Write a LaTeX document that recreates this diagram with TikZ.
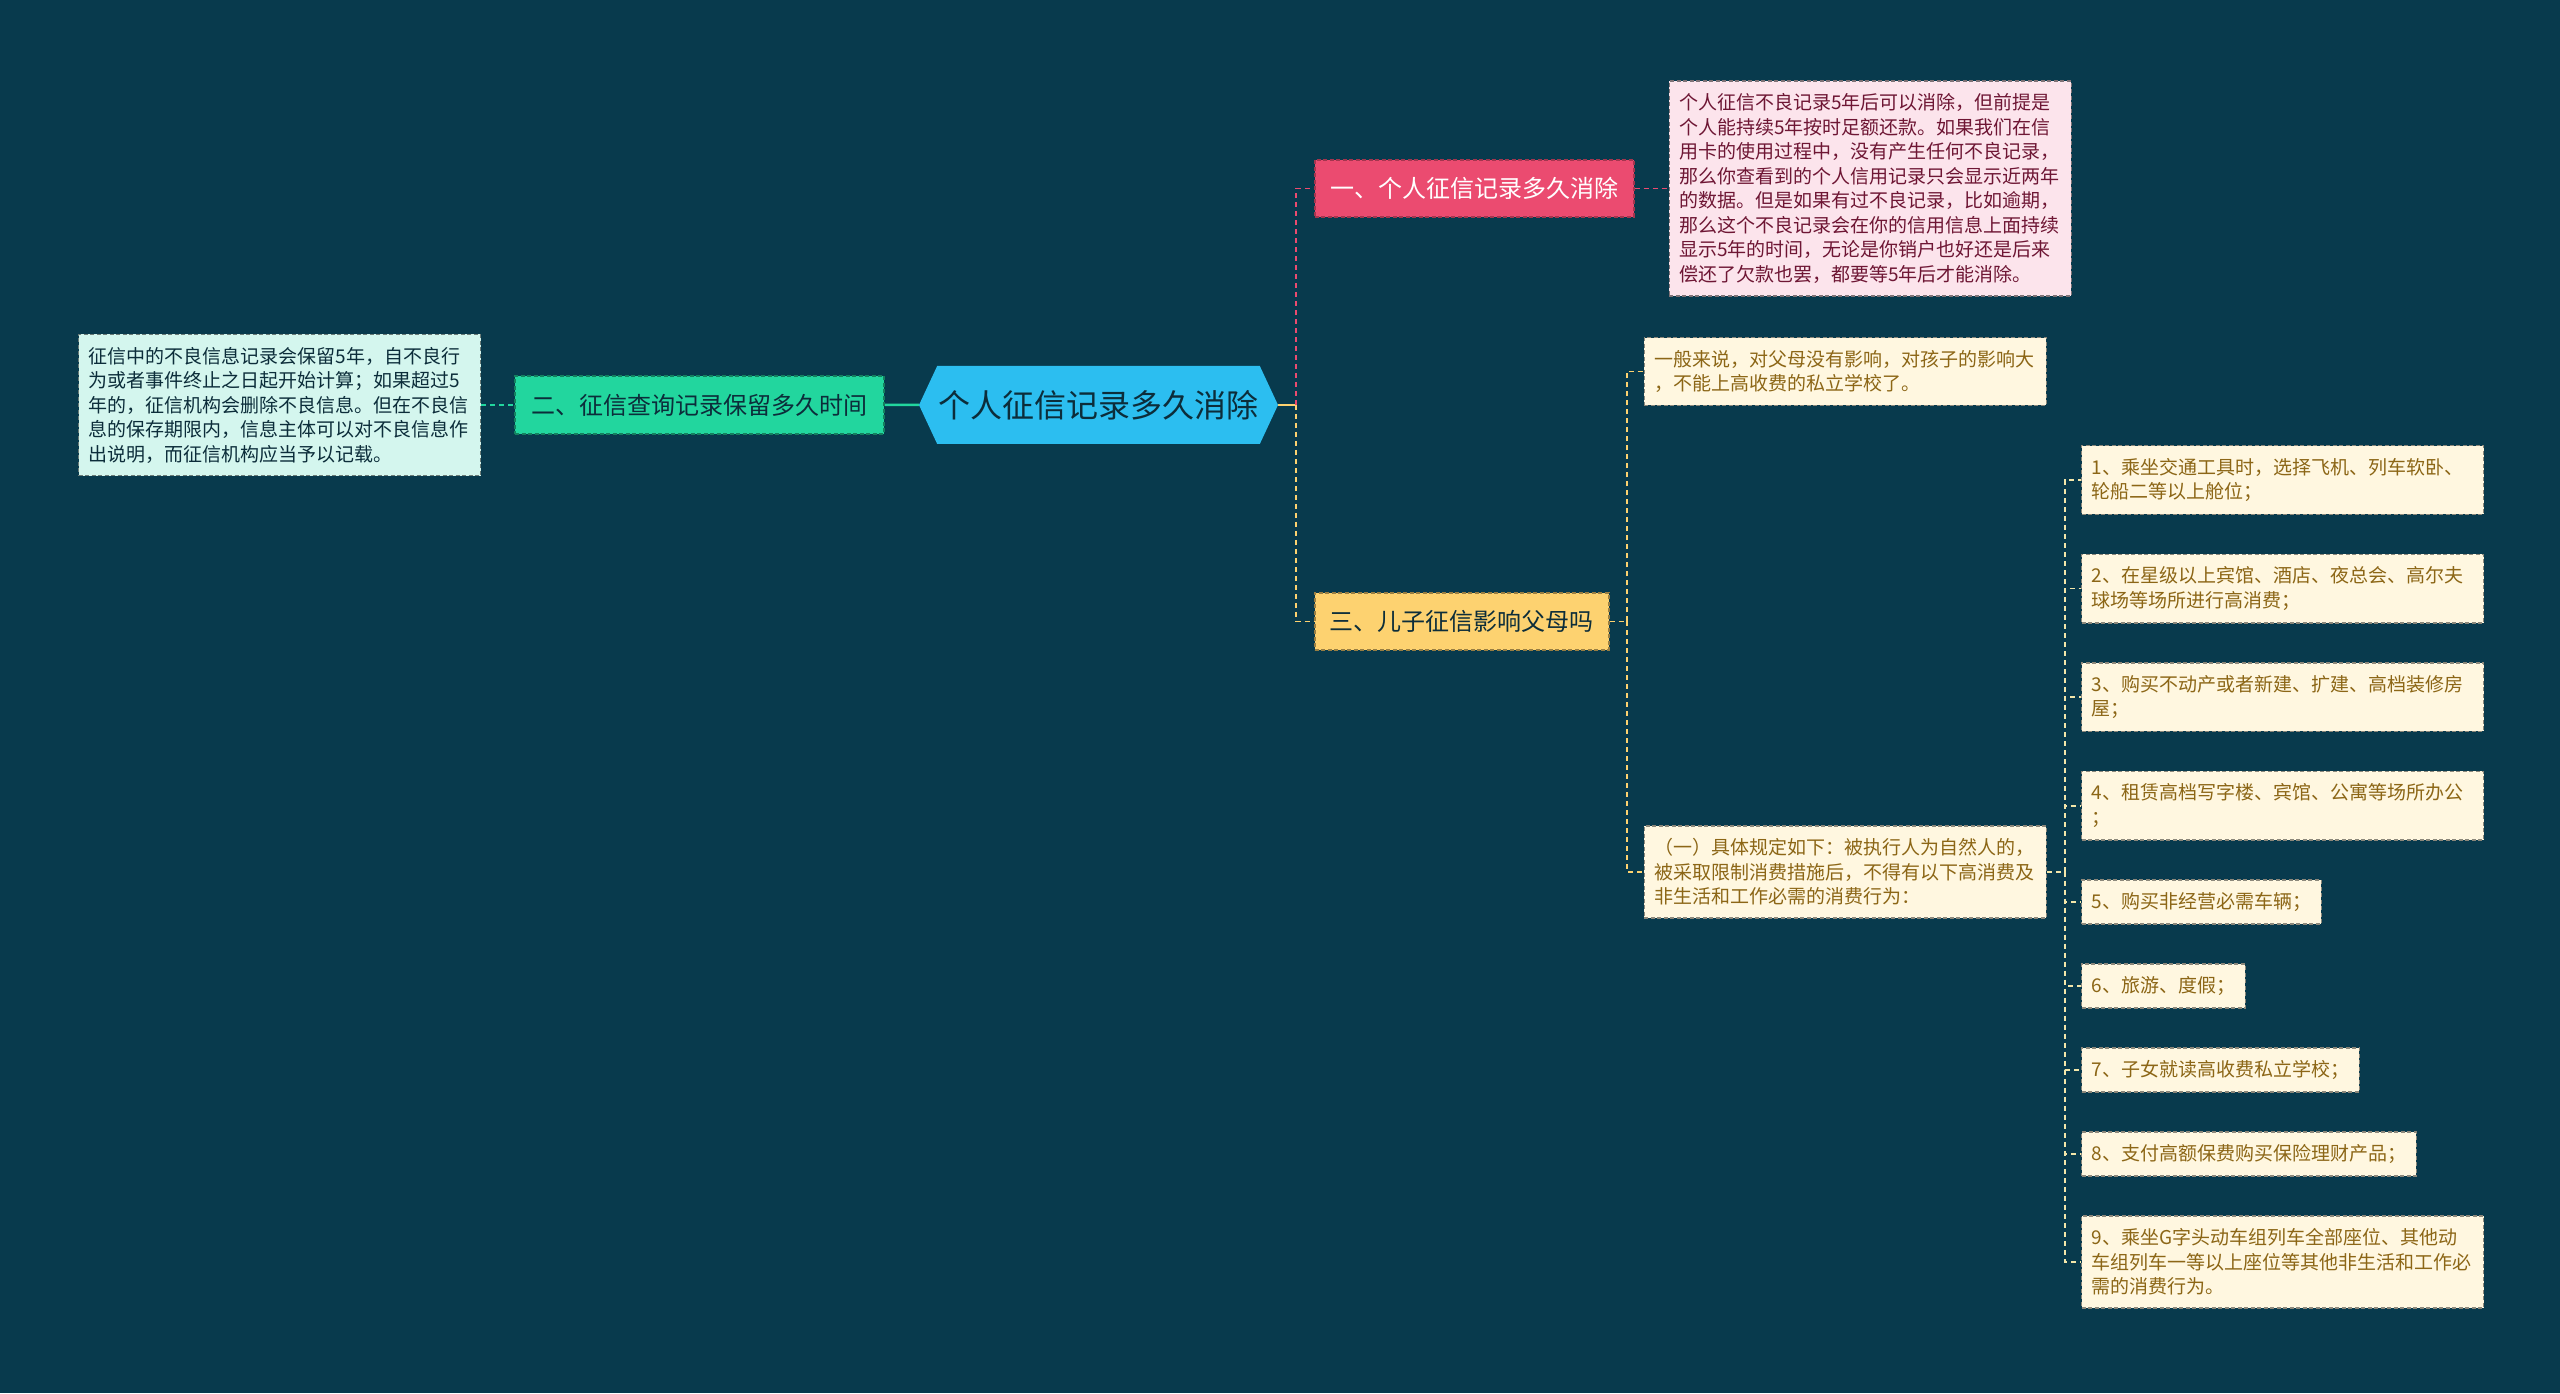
\documentclass[tikz,border=0pt]{standalone}
\usepackage{fontspec}
\setmainfont{Noto Sans CJK SC}
\usetikzlibrary{positioning, calc, shapes.symbols, backgrounds}
\definecolor{DeepTeal}{RGB}{8, 58, 77}
\definecolor{SkyBlue}{RGB}{44, 190, 240}
\definecolor{RoseRed}{RGB}{235, 75, 112}
\definecolor{RoseLight}{RGB}{252, 228, 236}
\definecolor{RoseText}{RGB}{110, 22, 52}
\definecolor{MintGreen}{RGB}{34, 214, 158}
\definecolor{MintLight}{RGB}{212, 246, 238}
\definecolor{Sunflower}{RGB}{253, 210, 112}
\definecolor{CreamBg}{RGB}{255, 247, 224}
\definecolor{OchreText}{RGB}{140, 102, 22}
\definecolor{InkDark}{RGB}{12, 45, 58}
\definecolor{PaleLine}{RGB}{243, 230, 170}

\begin{document}
\begin{tikzpicture}[
    x=1pt, y=1pt,
    font=\fontsize{19}{24.5}\selectfont,
    boxstyle/.style={rectangle, dash pattern=on 4pt off 2.5pt, line width=1.4pt, align=left, inner xsep=10pt, inner ysep=12.5pt},
    topicstyle/.style={boxstyle, align=center, inner xsep=15pt, minimum height=57pt, font=\fontsize{24}{28}\selectfont},
    notestyle/.style={boxstyle, text width=382pt},
    itemstyle/.style={boxstyle, fill=CreamBg, draw=CreamBg!55!black, text=OchreText},
    widestyle/.style={text width=382pt},
    linestyle/.style={line width=1.8pt, dash pattern=on 5pt off 4pt}
]

    % Root
    \node (main_topic) [signal, signal to=east and west, signal pointer angle=130, fill=SkyBlue, minimum width=359pt, minimum height=78pt, inner xsep=1pt, font=\fontsize{32}{36}\selectfont, text=InkDark] at (1098.5, 988) {个人征信记录多久消除};

    % Left branch
    \node (sec_two) [topicstyle, fill=MintGreen, draw=MintGreen!60!black, text=InkDark, minimum width=369pt, minimum height=58pt, left=34pt of main_topic] {二、征信查询记录保留多久时间};
    \node (note_two) [notestyle, fill=MintLight, draw=MintLight!50!black, text=InkDark, left=33pt of sec_two] {征信中的不良信息记录会保留5年，自不良行\\为或者事件终止之日起开始计算；如果超过5\\年的，征信机构会删除不良信息。但在不良信\\息的保存期限内，信息主体可以对不良信息作\\出说明，而征信机构应当予以记载。};

    % Right branch, top
    \node (sec_one) [topicstyle, fill=RoseRed, draw=RoseRed!70!black, text=white, minimum width=319pt, right=36pt of main_topic, yshift=216.5pt] {一、个人征信记录多久消除};
    \node (note_one) [notestyle, fill=RoseLight, draw=RoseLight!50!black, text=RoseText, right=34pt of sec_one] {个人征信不良记录5年后可以消除，但前提是\\个人能持续5年按时足额还款。如果我们在信\\用卡的使用过程中，没有产生任何不良记录，\\那么你查看到的个人信用记录只会显示近两年\\的数据。但是如果有过不良记录，比如逾期，\\那么这个不良记录会在你的信用信息上面持续\\显示5年的时间，无论是你销户也好还是后来\\偿还了欠款也罢，都要等5年后才能消除。};

    % Right branch, bottom
    \node (sec_three) [topicstyle, fill=Sunflower, draw=Sunflower!60!black, text=InkDark, minimum width=294pt, right=36pt of main_topic, yshift=-216.5pt] {三、儿子征信影响父母吗};
    \node (note_three) [notestyle, fill=CreamBg, draw=CreamBg!55!black, text=OchreText, right=34pt of sec_three, yshift=250pt] {一般来说，对父母没有影响，对孩子的影响大\\，不能上高收费的私立学校了。};
    \node (rule_list) [notestyle, fill=CreamBg, draw=CreamBg!55!black, text=OchreText, right=34pt of sec_three, yshift=-250.5pt] {（一）具体规定如下：被执行人为自然人的，\\被采取限制消费措施后，不得有以下高消费及\\非生活和工作必需的消费行为：};

    % Restricted items
    \node (item_1) [itemstyle, widestyle, above right=427pt and 34pt of rule_list.east, anchor=north west] {1、乘坐交通工具时，选择飞机、列车软卧、\\轮船二等以上舱位；};
    \node (item_2) [itemstyle, widestyle, below=38.5pt of item_1.south west, anchor=north west] {2、在星级以上宾馆、酒店、夜总会、高尔夫\\球场等场所进行高消费；};
    \node (item_3) [itemstyle, widestyle, below=38.5pt of item_2.south west, anchor=north west] {3、购买不动产或者新建、扩建、高档装修房\\屋；};
    \node (item_4) [itemstyle, widestyle, below=38.5pt of item_3.south west, anchor=north west] {4、租赁高档写字楼、宾馆、公寓等场所办公\\；};
    \node (item_5) [itemstyle, below=38.5pt of item_4.south west, anchor=north west] {5、购买非经营必需车辆；};
    \node (item_6) [itemstyle, below=38.5pt of item_5.south west, anchor=north west] {6、旅游、度假；};
    \node (item_7) [itemstyle, below=38.5pt of item_6.south west, anchor=north west] {7、子女就读高收费私立学校；};
    \node (item_8) [itemstyle, below=38.5pt of item_7.south west, anchor=north west] {8、支付高额保费购买保险理财产品；};
    \node (item_9) [itemstyle, widestyle, below=38.5pt of item_8.south west, anchor=north west] {9、乘坐G字头动车组列车全部座位、其他动\\车组列车一等以上座位等其他非生活和工作必\\需的消费行为。};

    % Connections
    \begin{scope}[on background layer]
        \fill [DeepTeal] (0, 0) rectangle (2560, 1393);

        \draw [line width=2.5pt, MintGreen] (sec_two) -- (main_topic);
        \draw [linestyle, MintGreen] (note_two) -- (sec_two);

        \coordinate (root_fork) at ($(main_topic.east)+(18pt,0)$);
        \draw [line width=1.8pt, Sunflower] (main_topic.east) -- (root_fork);
        \draw [linestyle, RoseRed] (root_fork) |- (sec_one.west);
        \draw [linestyle, Sunflower] (root_fork) |- (sec_three.west);
        \draw [linestyle, RoseRed] (sec_one) -- (note_one);

        \coordinate (child_fork) at ($(sec_three.east)+(17pt,0)$);
        \draw [linestyle, Sunflower] (sec_three.east) -- (child_fork);
        \draw [linestyle, Sunflower] (child_fork) |- (note_three.west);
        \draw [linestyle, Sunflower] (child_fork) |- (rule_list.west);

        \coordinate (item_fork) at ($(rule_list.east)+(18pt,0)$);
        \draw [linestyle, PaleLine] (rule_list.east) -- (item_fork);
        \foreach \i in {1,...,9}
            \draw [linestyle, PaleLine] (item_fork) |- (item_\i.west);
    \end{scope}

\end{tikzpicture}
\end{document}
